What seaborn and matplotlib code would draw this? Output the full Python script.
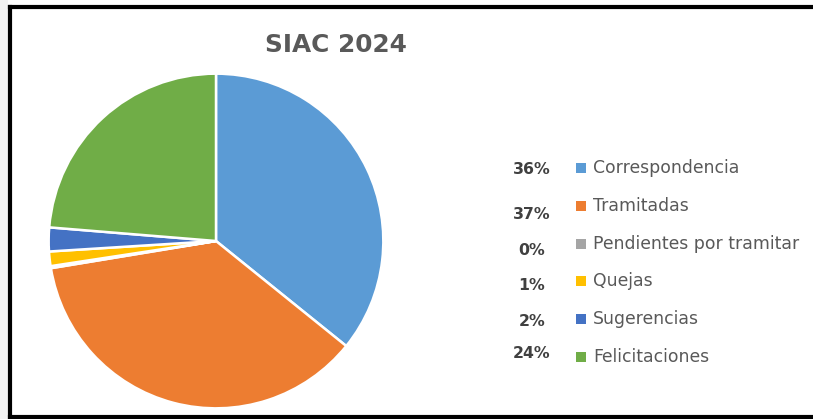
import matplotlib
matplotlib.use("Agg")
import matplotlib.pyplot as plt
from matplotlib.patches import Rectangle
import seaborn as sns

# SIAC 2024 request breakdown (shares in percent)
categories = ["Correspondencia", "Tramitadas", "Pendientes por tramitar",
              "Quejas", "Sugerencias", "Felicitaciones"]
shares = [35.8, 36.6, 0.2, 1.4, 2.3, 23.7]
colors_hex = ["#5B9BD5", "#ED7D31", "#A5A5A5", "#FFC000", "#4472C4", "#70AD47"]
title = "SIAC 2024"

sns.set_theme(style="white")
plt.rcParams["font.family"] = ["DejaVu Sans"]
palette = sns.color_palette(colors_hex)

W, H = 813, 419
fig = plt.figure(figsize=(W / 100, H / 100), dpi=100)
fig.patch.set_facecolor("white")


def fx(px):
    return px / W


def fy(py):
    return 1 - py / H


# light margin outside the frame on the left
fig.patches.append(Rectangle((0, 0), fx(8), 1, transform=fig.transFigure,
                             facecolor="#f3f3f3", edgecolor="none", zorder=0))

# pie
cx, cy, r = 216, 241, 169
ax = fig.add_axes([fx(cx - r), fy(cy + r), fx(2 * r), (2 * r) / H])
wedges, _ = ax.pie(shares, colors=palette, startangle=90, counterclock=False,
                   radius=1.0,
                   wedgeprops=dict(edgecolor="white", linewidth=1.8))
ax.set_xlim(-1.01, 1.01)
ax.set_ylim(-1.01, 1.01)
ax.set_aspect("equal")
ax.axis("off")

# title
fig.text(fx(336), fy(45), title, ha="center", va="center",
         fontsize=17.8, fontweight="bold", color="#595959")

# legend with percentage labels
y0, dy = 168, 37.8
pct_offsets = [1, 9, 7, 4, 2, -4]
for i, (name, val, col) in enumerate(zip(categories, shares, palette)):
    yy = y0 + i * dy
    fig.text(fx(532), fy(yy + pct_offsets[i]), f"{round(val):d}%",
             ha="center", va="center",
             fontsize=11.3, fontweight="bold", color="#404040")
    fig.patches.append(Rectangle((fx(576), fy(yy + 5)), fx(10), 10 / H,
                                 transform=fig.transFigure, facecolor=col,
                                 edgecolor="none"))
    fig.text(fx(593), fy(yy), name, ha="left", va="center",
             fontsize=12.4, color="#595959")

# outer frame (open on the right side)
frame_kw = dict(color="black", linewidth=3, solid_capstyle="projecting")
fig.add_artist(plt.Line2D([fx(10), fx(10)], [fy(7.5), fy(417)],
                          transform=fig.transFigure, **frame_kw))
fig.add_artist(plt.Line2D([fx(10), fx(W + 5)], [fy(7.5), fy(7.5)],
                          transform=fig.transFigure, **frame_kw))
fig.add_artist(plt.Line2D([fx(10), fx(W + 5)], [fy(417), fy(417)],
                          transform=fig.transFigure, **frame_kw))

fig.savefig("out.png", dpi=100)
